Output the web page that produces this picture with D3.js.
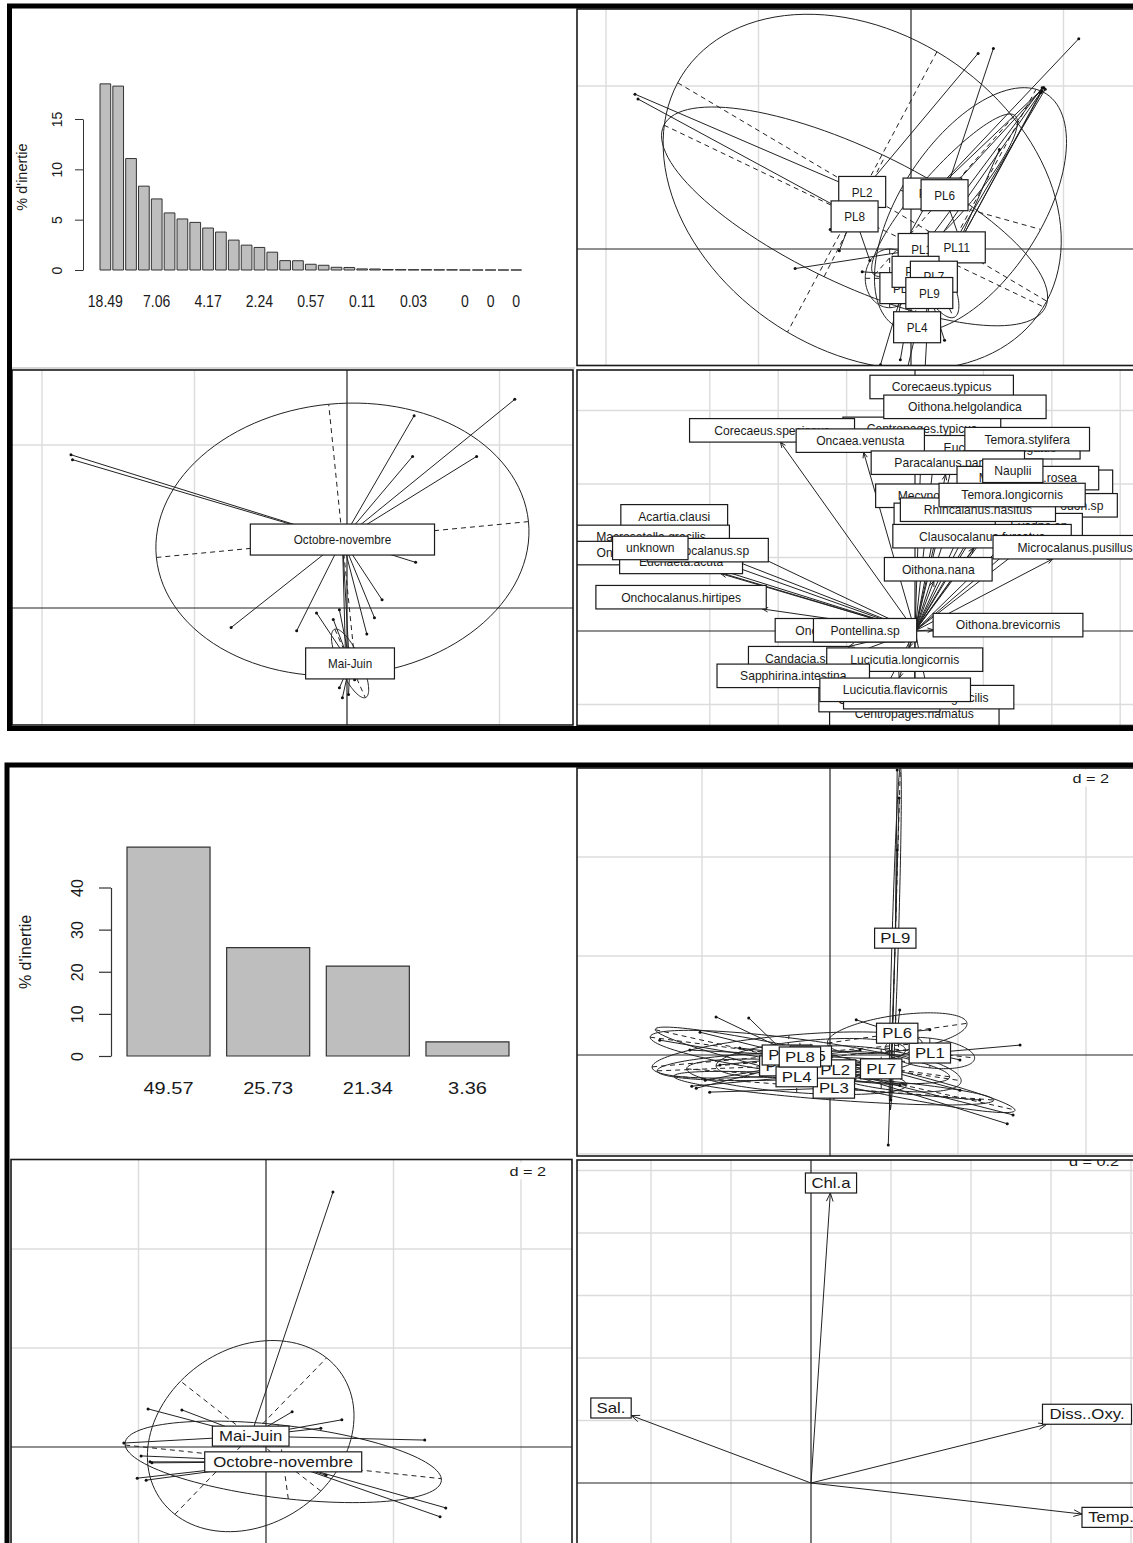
<!DOCTYPE html>
<html lang="fr">
<head>
<meta charset="utf-8">
<title>Analyses inter-classes du zooplancton</title>
<script src="https://cdn.jsdelivr.net/npm/d3@7/dist/d3.min.js"></script>
<style>
  html, body { margin: 0; padding: 0; background: #ffffff; }
  svg { display: block; }
</style>
</head>
<body>
<svg id="fig" width="1133" height="1543"></svg>
<script>
// ------------------------------------------------------------------
// Eigenvalue bar charts (% d'inertie)
// ------------------------------------------------------------------
const inertiaAll = [18.49, 18.27, 11.07, 8.33, 7.06, 5.67, 5.07, 4.73, 4.17, 3.77, 2.97,
  2.47, 2.24, 1.77, 0.93, 0.92, 0.57, 0.47, 0.27, 0.25, 0.11, 0.10, 0.05, 0.04, 0.03,
  0.03, 0.02, 0.02, 0, 0, 0, 0, 0];
const inertiaAllNamed = [0, 4, 8, 12, 16, 20, 24, 28, 30, 32];   // bars that carry a name
const inertiaAllTicks = [0, 5, 10, 15];
const inertiaEnv = [49.57, 25.73, 21.34, 3.36];
const inertiaEnvTicks = [0, 10, 20, 30, 40];

// ------------------------------------------------------------------
// Species analysis: stations (class, x, y) on the first factorial map
// ------------------------------------------------------------------
const stationsAllCentres = [
  ["PL1", 0.07, 0.00], ["PL10", 0.14, 0.34], ["PL11", 0.30, 0.01], ["PL2", -0.32, 0.35],
  ["PL3", -0.05, -0.24], ["PL4", 0.04, -0.48], ["PL5", 0.03, -0.14], ["PL6", 0.22, 0.33],
  ["PL7", 0.15, -0.17], ["PL8", -0.37, 0.20], ["PL9", 0.12, -0.27]
];
const stationsAllPoints = [
  ["PL2", -1.81, 0.95], ["PL2", 0.44, 1.20], ["PL2", -0.47, -0.01],
  ["PL8", -1.79, 0.92], ["PL8", -0.27, -0.07], ["PL8", -0.53, 0.12],
  ["PL6", 0.54, 1.23], ["PL6", 0.87, 0.99], ["PL6", 0.32, 0.06],
  ["PL10", 0.87, 0.99], ["PL10", 1.10, 1.29], ["PL10", -0.07, -0.01],
  ["PL11", 0.86, 0.97], ["PL11", 0.85, 0.96], ["PL11", 0.58, 0.61],
  ["PL1", -0.76, -0.12], ["PL1", 0.86, 0.99],
  ["PL7", 0.88, 0.98], ["PL7", -0.32, -0.14], ["PL7", 0.06, -0.56],
  ["PL5", 0.85, 0.96], ["PL5", -0.07, -0.68],
  ["PL3", -0.20, -0.71], ["PL3", -0.10, -0.50],
  ["PL9", 0.09, -0.77], ["PL9", 0.22, -0.56],
  ["PL4", -0.04, -0.80]
];
// ellipse: class, centre x, centre y, first semi-axis (x, y), second semi-axis (x, y)
const stationsAllEllipses = [
  ["PL2", -0.32, 0.35, 1.21, -0.67, -0.49, -0.86],
  ["PL8", -0.37, 0.20, 1.25, -0.56, 0.20, 0.37],
  ["PL10", 0.39, 0.24, 0.43, 0.74, 0.46, -0.12],
  ["PL3", -0.14, -0.18, 0.16, 0.00, 0.00, -0.18],
  ["PL6", 0.22, 0.33, 0.46, 0.49, 0.13, -0.09],
  ["PL7", 0.15, -0.17, 0.13, -0.25, 0.10, 0.03]
];

// Seasons on the same map
const seasonsAllCentres = [["Mai-Juin", 0.02, -0.34], ["Octobre-novembre", -0.03, 0.42]];
const seasonsAllPoints = [
  ["Octobre-novembre", -1.81, 0.94], ["Octobre-novembre", -1.80, 0.91],
  ["Octobre-novembre", 1.10, 1.28], ["Octobre-novembre", 0.44, 1.18],
  ["Octobre-novembre", 0.43, 0.93], ["Octobre-novembre", 0.85, 0.93],
  ["Octobre-novembre", 0.45, 0.28], ["Octobre-novembre", -0.76, -0.12],
  ["Octobre-novembre", -0.33, -0.14], ["Octobre-novembre", 0.23, 0.05],
  ["Octobre-novembre", 0.18, -0.06], ["Octobre-novembre", 0.13, -0.16],
  ["Octobre-novembre", -0.01, -0.29], ["Octobre-novembre", 0.01, -0.25],
  ["Mai-Juin", -0.20, -0.03], ["Mai-Juin", -0.09, -0.07], ["Mai-Juin", -0.05, -0.01],
  ["Mai-Juin", 0.05, -0.44], ["Mai-Juin", -0.05, -0.49], ["Mai-Juin", -0.03, -0.55],
  ["Mai-Juin", 0.01, -0.53]
];
const seasonsAllEllipses = [
  ["Octobre-novembre", -0.03, 0.42, 1.22, 0.11, -0.09, 0.83],
  ["Mai-Juin", 0.02, -0.34, 0.10, -0.21, 0.07, 0.02]
];

// Species (name, x, y), listed in drawing order
const speciesAll = [
  ["Corecaeus.typicus", 0.39, 3.32], ["Centropages.typicus", 0.10, 2.75],
  ["Oithona.helgolandica", 0.73, 3.05], ["Corecaeus.speciosus", -2.09, 2.73],
  ["Eucalanus.elongatus", 1.24, 2.50], ["Oncaea.venusta", -0.80, 2.59],
  ["Temora.stylifera", 1.64, 2.61], ["Paracalanus.parvus", 0.48, 2.29],
  ["Oithona.sp", 2.24, 2.03], ["Microsetella.rosea", 1.65, 2.08],
  ["Nauplii", 1.43, 2.18], ["Mecynocera.clausi", 0.48, 1.84],
  ["Podon.sp", 2.38, 1.71], ["Oithona.similis", 0.54, 1.58],
  ["Evadne.sp", 1.81, 1.44], ["Rhincalanus.nasitus", 0.92, 1.65],
  ["Temora.longicornis", 1.42, 1.85], ["Clausocalanus.furcatus", 0.98, 1.29],
  ["Microcalanus.pusillus", 2.34, 1.14], ["Oithona.nana", 0.34, 0.84],
  ["Acartia.clausi", -3.52, 1.56], ["Macrosetella.gracilis", -3.86, 1.28],
  ["Oncaea.mediterranea", -3.80, 1.06], ["Euchaeta.acuta", -3.42, 0.94],
  ["Calocalanus.sp", -3.03, 1.10], ["unknown", -3.87, 1.13],
  ["Onchocalanus.hirtipes", -3.42, 0.46], ["Oncaea.conifera", -1.10, 0.01],
  ["Pontellina.sp", -0.73, 0.01], ["Oithona.brevicornis", 1.36, 0.08],
  ["Candacia.sp", -1.70, -0.37], ["Lucicutia.longicornis", -0.15, -0.39],
  ["Centropages.hamatus", -0.01, -1.13], ["Oncaea.subtilis", -0.52, -0.94],
  ["Pleuromamma.gracilis", 0.20, -0.90], ["Sapphirina.intestina", -1.78, -0.61],
  ["Lucicutia.flavicornis", -0.29, -0.80]
];

// ------------------------------------------------------------------
// Environmental analysis (4 variables)
// ------------------------------------------------------------------
const stationsEnvCentres = [
  ["PL1", 1.56, 0.04], ["PL10", -0.70, -0.22], ["PL11", -0.67, 0.00], ["PL2", 0.08, -0.30],
  ["PL3", 0.06, -0.67], ["PL4", -0.52, -0.44], ["PL5", -0.30, -0.02], ["PL6", 1.05, 0.44],
  ["PL7", 0.80, -0.28], ["PL8", -0.47, -0.04], ["PL9", 1.02, 2.36]
];
const stationsEnvPoints = [
  ["PL1", 2.97, 0.20], ["PL1", 2.03, -0.10],
  ["PL6", 0.41, 0.71], ["PL6", 1.09, 0.91], ["PL6", 1.56, 0.51],
  ["PL8", -1.78, 0.77], ["PL8", -2.03, 0.46], ["PL8", 0.63, -0.30],
  ["PL11", -1.27, 0.75], ["PL11", -2.19, 0.10], ["PL11", 1.09, -0.10],
  ["PL10", -2.09, -0.67], ["PL10", -1.95, -0.51], ["PL10", 0.78, -0.40],
  ["PL5", -1.72, -0.20], ["PL5", -1.41, 0.14], ["PL5", 0.47, 0.10],
  ["PL2", 2.86, -1.21], ["PL2", 2.77, -1.39], ["PL2", -2.66, 0.30],
  ["PL4", -2.16, -0.63], ["PL4", 1.09, -0.61],
  ["PL3", 2.34, -0.91], ["PL3", -1.88, -0.75],
  ["PL7", 2.03, -0.71], ["PL7", 0.31, -0.10], ["PL7", -0.78, -0.51],
  ["PL9", 1.08, 5.19], ["PL9", 1.05, 4.14], ["PL9", 0.95, -0.91], ["PL9", 0.91, -1.82],
  ["PL9", 1.05, 5.76]
];
const stationsEnvEllipses = [
  ["PL1", 1.56, 0.04, 0.70, -0.10, 0.00, -0.30],
  ["PL10", -0.70, -0.22, 2.00, 0.10, 0.02, -0.28],
  ["PL11", -0.67, 0.00, 2.11, 0.24, 0.03, 0.40],
  ["PL2", 0.08, -0.30, 2.81, -0.81, -0.05, 0.30],
  ["PL3", 0.06, -0.67, 2.50, -0.24, 0.00, 0.24],
  ["PL4", -0.52, -0.44, 1.72, -0.16, 0.00, -0.32],
  ["PL5", -0.30, -0.06, 1.48, 0.16, 0.00, 0.36],
  ["PL6", 1.05, 0.44, 1.09, 0.20, 0.03, -0.36],
  ["PL7", 0.80, -0.28, 1.25, -0.24, 0.00, 0.40],
  ["PL8", -0.47, -0.04, 2.34, -0.40, 0.00, 0.36],
  ["PL9", 1.02, 2.36, 0.08, 3.47, 0.05, 0.00]
];

const seasonsEnvCentres = [["Mai-Juin", -0.24, 0.22], ["Octobre-novembre", 0.27, -0.30]];
const seasonsEnvPoints = [
  ["Mai-Juin", 1.05, 5.15], ["Mai-Juin", -1.85, 0.77], ["Mai-Juin", -1.32, 0.75],
  ["Mai-Juin", 0.41, 0.71], ["Mai-Juin", 0.86, 0.38], ["Mai-Juin", 1.19, 0.55],
  ["Mai-Juin", 2.49, 0.14], ["Mai-Juin", -2.23, 0.08],
  ["Octobre-novembre", -1.96, -0.18], ["Octobre-novembre", -1.82, -0.30],
  ["Octobre-novembre", -2.02, -0.63], ["Octobre-novembre", -1.88, -0.67],
  ["Octobre-novembre", -1.79, -0.32], ["Octobre-novembre", 2.82, -1.23],
  ["Octobre-novembre", 2.73, -1.41], ["Octobre-novembre", 0.94, -0.57]
];
const seasonsEnvEllipses = [
  ["Mai-Juin", -0.24, 0.22, 1.19, 1.58, -1.10, 1.11],
  ["Octobre-novembre", 0.27, -0.30, 2.48, -0.34, -0.08, 0.75]
];

const envVariables = [
  ["Chl.a", 0.05, 0.96], ["Sal.", -0.50, 0.24], ["Diss..Oxy.", 0.69, 0.22], ["Temp.", 0.75, -0.11]
];

// grid lines (multiples of the cell size d) for each map
const gridAllX = [-2, -1, 1, 2], gridAllY = [-1, 1];
const gridSpX = [-3, -2, -1, 1, 2, 3], gridSpY = [-1, 1, 2, 3, 4];
const gridEnvX = [-4, -2, 2, 4], gridEnvY = [-2, 2, 4, 6];
const gridVarX = [-0.4, -0.2, 0.2, 0.4, 0.6, 0.8], gridVarY = [0.2, 0.4, 0.6, 0.8, 1.0];

// ------------------------------------------------------------------
// drawing helpers
// ------------------------------------------------------------------
const FONT = '"Liberation Sans", Arial, Helvetica, sans-serif';
const INK = "#1a1a1a";
const svg = d3.select("#fig");
svg.append("rect").attr("width", 1133).attr("height", 1543).attr("fill", "#fff");

let clipCount = 0;
function panel([x0, y0, x1, y1]) {
  const id = "pclip" + (clipCount++);
  svg.append("clipPath").attr("id", id).append("rect")
    .attr("x", x0).attr("y", y0).attr("width", x1 - x0).attr("height", y1 - y0);
  return svg.append("g").attr("clip-path", `url(#${id})`);
}
function border([x0, y0, x1, y1]) {
  svg.append("rect").attr("x", x0).attr("y", y0).attr("width", x1 - x0).attr("height", y1 - y0)
    .attr("fill", "none").attr("stroke", INK).attr("stroke-width", 1.6);
}
function addText(g, x, y, str, size, sx = 1, rot = 0, anchor = "middle") {
  return g.append("text")
    .attr("transform", `translate(${x},${y}) rotate(${rot}) scale(${sx},1)`)
    .attr("text-anchor", anchor).attr("dy", "0.35em")
    .attr("font-family", FONT).attr("font-size", size).attr("fill", INK)
    .text(str);
}
function boxedLabel(g, x, y, str, st) {
  const grp = g.append("g");
  const rect = grp.append("rect").attr("fill", "#fff").attr("stroke", INK).attr("stroke-width", 1.2);
  const t = addText(grp, x, y, str, st.size, st.sx);
  const tw = t.node().getComputedTextLength() * st.sx;
  const w = st.k * tw + st.pad;
  rect.attr("x", x - w / 2).attr("y", y - st.h / 2).attr("width", w).attr("height", st.h);
  return { x, y, w, h: st.h };
}
function gridAxes(g, xs, ys, gx, gy, [x0, y0, x1, y1]) {
  const grid = g.append("g").attr("stroke", "#dcdcdc").attr("stroke-width", 1.4);
  gx.forEach(v => grid.append("line").attr("x1", xs(v)).attr("x2", xs(v)).attr("y1", y0).attr("y2", y1));
  gy.forEach(v => grid.append("line").attr("y1", ys(v)).attr("y2", ys(v)).attr("x1", x0).attr("x2", x1));
  const ax = g.append("g").attr("stroke", "#222").attr("stroke-width", 1.2);
  ax.append("line").attr("x1", xs(0)).attr("x2", xs(0)).attr("y1", y0).attr("y2", y1);
  ax.append("line").attr("y1", ys(0)).attr("y2", ys(0)).attr("x1", x0).attr("x2", x1);
}
function dLabel(g, xRight, y, str, size, sx) {
  const bg = g.append("rect").attr("fill", "#fff");
  const t = addText(g, xRight, y, str, size, sx, 0, "end");
  const w = t.node().getComputedTextLength() * sx;
  bg.attr("x", xRight - w - 3).attr("y", y - size * 0.65).attr("width", w + 6).attr("height", size * 1.3);
}
// classes: ellipses with dashed axes, stars from centroid to each point, boxed class names
function drawClasses(g, xs, ys, centres, points, ellipses, st) {
  const lay = g.append("g").attr("fill", "none").attr("stroke", "#222").attr("stroke-width", 1);
  ellipses.forEach(([, cx, cy, ux, uy, vx, vy]) => {
    const pts = d3.range(0, 121).map(i => {
      const t = i / 120 * 2 * Math.PI;
      return [xs(cx + ux * Math.cos(t) + vx * Math.sin(t)), ys(cy + uy * Math.cos(t) + vy * Math.sin(t))];
    });
    lay.append("path").attr("d", d3.line()(pts));
    [[ux, uy], [vx, vy]].forEach(([ax, ay]) => lay.append("line")
      .attr("x1", xs(cx - ax)).attr("y1", ys(cy - ay)).attr("x2", xs(cx + ax)).attr("y2", ys(cy + ay))
      .attr("stroke-dasharray", "5,4"));
  });
  const cmap = new Map(centres.map(d => [d[0], d]));
  points.forEach(([cls, px, py]) => {
    const c = cmap.get(cls);
    lay.append("line").attr("x1", xs(c[1])).attr("y1", ys(c[2])).attr("x2", xs(px)).attr("y2", ys(py));
    g.append("circle").attr("cx", xs(px)).attr("cy", ys(py)).attr("r", 1.5).attr("fill", "#111");
  });
  centres.forEach(([name, x, y]) => boxedLabel(g, xs(x), ys(y), name, st));
}
// arrows from the origin to the near edge of each label box
function drawArrows(g, xs, ys, labels, st, head) {
  const arrows = g.append("g").attr("stroke", "#222").attr("stroke-width", 1);
  const labs = g.append("g");
  const ox = xs(0), oy = ys(0);
  labels.forEach(([name, x, y]) => {
    const b = boxedLabel(labs, xs(x), ys(y), name, st);
    const dx = b.x - ox, dy = b.y - oy;
    const s = Math.min(Math.abs(dx) > 1e-6 ? (b.w / 2) / Math.abs(dx) : Infinity,
                       Math.abs(dy) > 1e-6 ? (b.h / 2) / Math.abs(dy) : Infinity);
    if (s >= 1) return;
    const tx = b.x - s * dx, ty = b.y - s * dy;
    arrows.append("line").attr("x1", ox).attr("y1", oy).attr("x2", tx).attr("y2", ty);
    const ang = Math.atan2(ty - oy, tx - ox);
    [ang + Math.PI - 0.38, ang + Math.PI + 0.38].forEach(a => arrows.append("line")
      .attr("x1", tx).attr("y1", ty).attr("x2", tx + head * Math.cos(a)).attr("y2", ty + head * Math.sin(a)));
  });
}
function barPath(x, y, w, h) { return `M${x},${y}h${w}v${h}h${-w}Z`; }
const fmt2 = v => String(+v.toFixed(2));

// ------------------------------------------------------------------
// layout
// ------------------------------------------------------------------
const P = {
  allStn: [577, 9, 1140, 365.5],
  allSeas: [12, 370, 573, 725],
  allSp: [577, 370, 1140, 725.5],
  envStn: [577, 768, 1140, 1156],
  envSeas: [11, 1159.5, 572, 1560],
  envVar: [577, 1160, 1140, 1560]
};
const styleAll = { size: 13, sx: 0.9, k: 1.79, pad: 9.7, h: 31 };
const styleSp = { size: 12.5, sx: 0.97, k: 1.33, pad: 11, h: 23.5 };
const styleEnv = { size: 14, sx: 1.2, k: 1.05, pad: 10, h: 20 };

// ================= first analysis (species) =================
// eigenvalues
{
  const g = svg.append("g");
  const x = d3.scaleBand().domain(d3.range(inertiaAll.length)).range([100, 521.6]).paddingInner(1 / 6).paddingOuter(0);
  const y = d3.scaleLinear().domain([0, 15]).range([270, 119]);
  g.selectAll("path.bar").data(inertiaAll).join("path").attr("class", "bar")
    .attr("d", (d, i) => barPath(x(i), y(d), x.bandwidth(), y(0) - y(d)))
    .attr("fill", "#bebebe").attr("stroke", "#333").attr("stroke-width", 1);
  const ax = g.append("g").attr("transform", "translate(83,0)")
    .call(d3.axisLeft(y).tickValues(inertiaAllTicks).tickSize(8).tickSizeOuter(0).tickFormat(d3.format("d")));
  ax.select(".domain").attr("stroke", "#333");
  ax.selectAll(".tick line").attr("stroke", "#333");
  ax.selectAll(".tick text").attr("x", 0).attr("y", -26).attr("dy", "0.35em").attr("text-anchor", "middle")
    .attr("transform", "rotate(-90)").attr("font-family", FONT).attr("font-size", 14).attr("fill", INK);
  inertiaAllNamed.forEach(i => addText(g, x(i) + x.bandwidth() / 2, 301, fmt2(inertiaAll[i]), 16.5, 0.85));
  addText(g, 22, 177, "% d'inertie", 14.5, 1, -90);
  g.append("line").attr("x1", 10).attr("x2", 575).attr("y1", 368).attr("y2", 368).attr("stroke", "#c8c8c8").attr("stroke-width", 1.5);
}
// stations
{
  const g = panel(P.allStn);
  const xs = d3.scaleLinear().domain([0, 1]).range([911, 911 + 152.5]);
  const ys = d3.scaleLinear().domain([0, 1]).range([249, 249 - 163]);
  gridAxes(g, xs, ys, gridAllX, gridAllY, P.allStn);
  drawClasses(g, xs, ys, stationsAllCentres, stationsAllPoints, stationsAllEllipses, styleAll);
  border(P.allStn);
}
// seasons
{
  const g = panel(P.allSeas);
  const xs = d3.scaleLinear().domain([0, 1]).range([347, 347 + 152.5]);
  const ys = d3.scaleLinear().domain([0, 1]).range([608, 608 - 163]);
  gridAxes(g, xs, ys, gridAllX, gridAllY, P.allSeas);
  drawClasses(g, xs, ys, seasonsAllCentres, seasonsAllPoints, seasonsAllEllipses, styleAll);
  border(P.allSeas);
}
// species
{
  const g = panel(P.allSp);
  const xs = d3.scaleLinear().domain([0, 1]).range([915, 915 + 68.4]);
  const ys = d3.scaleLinear().domain([0, 1]).range([631, 631 - 73.5]);
  gridAxes(g, xs, ys, gridSpX, gridSpY, P.allSp);
  drawArrows(g, xs, ys, speciesAll, styleSp, 6);
  border(P.allSp);
}
svg.append("rect").attr("x", 9.5).attr("y", 6).attr("width", 1200).attr("height", 722.5)
  .attr("fill", "none").attr("stroke", "#000").attr("stroke-width", 5);

// ================= second analysis (environment) =================
{
  const g = svg.append("g");
  const x = d3.scaleBand().domain(d3.range(inertiaEnv.length)).range([127, 509]).paddingInner(1 / 6).paddingOuter(0);
  const y = d3.scaleLinear().domain([0, 40]).range([1056, 887.5]);
  g.selectAll("path.bar").data(inertiaEnv).join("path").attr("class", "bar")
    .attr("d", (d, i) => barPath(x(i), y(d), x.bandwidth(), y(0) - y(d)))
    .attr("fill", "#bebebe").attr("stroke", "#333").attr("stroke-width", 1.2);
  const ax = g.append("g").attr("transform", "translate(111,0)")
    .call(d3.axisLeft(y).tickValues(inertiaEnvTicks).tickSize(12).tickSizeOuter(0).tickFormat(d3.format("d")));
  ax.select(".domain").attr("stroke", "#333").attr("stroke-width", 1.2);
  ax.selectAll(".tick line").attr("stroke", "#333").attr("stroke-width", 1.2);
  ax.selectAll(".tick text").attr("x", 0).attr("y", -34).attr("dy", "0.35em").attr("text-anchor", "middle")
    .attr("transform", "rotate(-90)").attr("font-family", FONT).attr("font-size", 16).attr("fill", INK);
  inertiaEnv.forEach((v, i) => addText(g, x(i) + x.bandwidth() / 2, 1088, fmt2(v), 16, 1.25));
  addText(g, 25, 952, "% d'inertie", 16, 1, -90);
}
// stations
{
  const g = panel(P.envStn);
  const xs = d3.scaleLinear().domain([0, 1]).range([830, 830 + 64]);
  const ys = d3.scaleLinear().domain([0, 1]).range([1055, 1055 - 49.5]);
  gridAxes(g, xs, ys, gridEnvX, gridEnvY, P.envStn);
  drawClasses(g, xs, ys, stationsEnvCentres, stationsEnvPoints, stationsEnvEllipses, styleEnv);
  dLabel(g, 1109, 778, "d = 2", 13, 1.25);
  border(P.envStn);
}
// seasons
{
  const g = panel(P.envSeas);
  const xs = d3.scaleLinear().domain([0, 1]).range([266, 266 + 63.75]);
  const ys = d3.scaleLinear().domain([0, 1]).range([1447, 1447 - 49.5]);
  gridAxes(g, xs, ys, gridEnvX, gridEnvY, P.envSeas);
  drawClasses(g, xs, ys, seasonsEnvCentres, seasonsEnvPoints, seasonsEnvEllipses, styleEnv);
  dLabel(g, 546, 1171, "d = 2", 13, 1.25);
  border(P.envSeas);
}
// variables
{
  const g = panel(P.envVar);
  const xs = d3.scaleLinear().domain([0, 1]).range([811, 811 + 400]);
  const ys = d3.scaleLinear().domain([0, 1]).range([1483, 1483 - 312.5]);
  gridAxes(g, xs, ys, gridVarX, gridVarY, P.envVar);
  drawArrows(g, xs, ys, envVariables, styleEnv, 9);
  dLabel(g, 1119, 1161, "d = 0.2", 13, 1.25);
  border(P.envVar);
}
svg.append("rect").attr("x", 7).attr("y", 765).attr("width", 1200).attr("height", 900)
  .attr("fill", "none").attr("stroke", "#000").attr("stroke-width", 5);
</script>
</body>
</html>
